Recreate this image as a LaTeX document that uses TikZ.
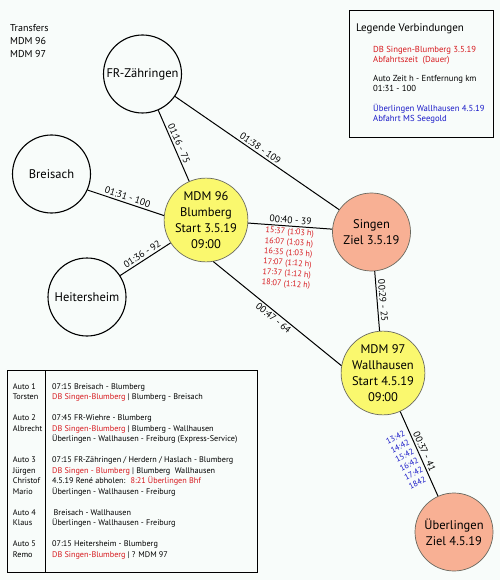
\documentclass[tikz,border=0pt]{standalone}
\usepackage{fontspec}
\setmainfont{PT Sans}
\usepackage{xcolor}
\usetikzlibrary{positioning}
\definecolor{bgtint}{RGB}{248,252,250}
\definecolor{startyellow}{RGB}{250,248,110}
\definecolor{goalsalmon}{RGB}{248,176,148}
\definecolor{rimgray}{RGB}{105,105,95}
\definecolor{trainred}{RGB}{215,25,30}
\definecolor{shipblue}{RGB}{25,25,200}

\begin{document}
\begin{tikzpicture}[
    x=1pt, y=-1pt,
    place/.style={circle, draw=black, line width=1.1pt, minimum size=78pt, inner sep=0pt, align=center, font=\fontsize{12.5}{15.8}\selectfont},
    start/.style={place, fill=startyellow, draw=rimgray, line width=0.7pt},
    goal/.style={place, fill=goalsalmon, draw=rimgray, line width=0.7pt},
    road/.style={line width=1pt},
    time/.style={sloped, above, inner sep=2pt, font=\fontsize{9.6}{10}\selectfont},
    trains/.style={sloped, below, inner sep=2pt, align=left, text=trainred, font=\fontsize{8.2}{10.4}\selectfont},
    ships/.style={anchor=east, rotate=27, inner sep=2pt, outer sep=2pt, align=left, text=shipblue, font=\fontsize{8.2}{10}\selectfont},
    panel/.style={draw, line width=0.8pt, anchor=north west},
    note/.style={anchor=west, align=left, inner sep=0pt, font=\fontsize{8.7}{10}\selectfont}
  ]
    \path[fill=bgtint, use as bounding box] (0,0) rectangle (500,580);
    \node[note, font=\fontsize{10}{13}\selectfont] (title) at (10,41) {Transfers\\MDM 96\\MDM 97};
    \node[place] (zaehringen) at (142.5,74) {FR-Zähringen};
    \node[place] (breisach) at (51.5,174) {Breisach};
    \node[place] (heitersheim) at (87,297) {Heitersheim};
    \node[start] (mdm96) at (206,220) {MDM 96\\Blumberg\\Start 3.5.19\\09:00};
    \node[goal] (singen) at (371.5,232) {Singen\\Ziel 3.5.19};
    \node[start] (mdm97) at (383,373) {MDM 97\\Wallhausen\\Start 4.5.19\\09:00};
    \node[goal] (ueberlingen) at (454,532) {Überlingen\\Ziel 4.5.19};
    \draw[road] (zaehringen) -- node[time] {01:16 - 75} (mdm96);
    \draw[road] (zaehringen) -- node[time] {01:38 - 109} (singen);
    \draw[road] (breisach.-24) -- node[time] {01:31 - 100} (mdm96.174);
    \draw[road] (heitersheim) -- node[time] {01:36 - 92} (mdm96);
    \draw[road] (mdm96) -- node[time] {00:40 - 39}
      node[trains] {15:37 (1:03 h)\\16:07 (1:03 h)\\16:35 (1:03 h)\\17:07 (1:12 h)\\17:37 (1:12 h)\\18:07 (1:12 h)} (singen);
    \draw[road] (mdm96.-80) -- node[time, below] {00:47 - 64} (mdm97.170);
    \draw[road] (singen) -- node[time] {00:29 - 25} (mdm97);
    \draw[road] (mdm97) -- node[time] {00:37 - 41}
      node[ships] {13:42\\14:42\\15:42\\16:42\\17:42\\1842} (ueberlingen);
    \node[panel, minimum width=144pt, minimum height=127pt] (legend) at (349,10) {};
    \node[note, font=\fontsize{11}{13}\selectfont] (legend title) at (356,28.5) {Legende Verbindungen};
    \node[note, text=trainred] (legend train) at (373,55) {DB Singen-Blumberg 3.5.19\\Abfahrtszeit~~(Dauer)};
    \node[note] (legend car) at (373,83) {Auto Zeit h - Entfernung km\\01:31 - 100};
    \node[note, text=shipblue] (legend ship) at (373,114) {Überlingen Wallhausen 4.5.19\\Abfahrt MS Seegold};
    \node[panel, minimum width=250pt, minimum height=202pt] (autos) at (7,370) {};
    \coordinate (split) at (45,370);
    \draw[line width=0.8pt] (split) -- (split |- autos.south);
    \node[anchor=north west, inner sep=0pt, font=\fontsize{8.2}{10.5}\selectfont] (roster) at (12.7,381.5) {%
      \begin{tabular}{@{}p{39.3pt}@{}l@{}}
        Auto 1 & 07:15 Breisach - Blumberg\\
        Torsten & \textcolor{trainred}{DB Singen-Blumberg} | Blumberg - Breisach\\[10.5pt]
        Auto 2 & 07:45 FR-Wiehre - Blumberg\\
        Albrecht & \textcolor{trainred}{DB Singen-Blumberg} | Blumberg - Wallhausen\\
         & Überlingen - Wallhausen - Freiburg (Express-Service)\\[10.5pt]
        Auto 3 & 07:15 FR-Zähringen / Herdern / Haslach - Blumberg\\
        Jürgen & \textcolor{trainred}{DB Singen - Blumberg} | Blumberg~ Wallhausen\\
        Christof & 4.5.19 René abholen:~ \textcolor{trainred}{8:21 Überlingen Bhf}\\
        Mario & Überlingen - Wallhausen - Freiburg\\[10.5pt]
        Auto 4 & \hspace{1.5pt}Breisach - Wallhausen\\
        Klaus & Überlingen - Wallhausen - Freiburg\\[10.5pt]
        Auto 5 & 07:15 Heitersheim - Blumberg\\
        Remo & \textcolor{trainred}{DB Singen-Blumberg} | ? MDM 97
      \end{tabular}};
  \end{tikzpicture}
\end{document}
